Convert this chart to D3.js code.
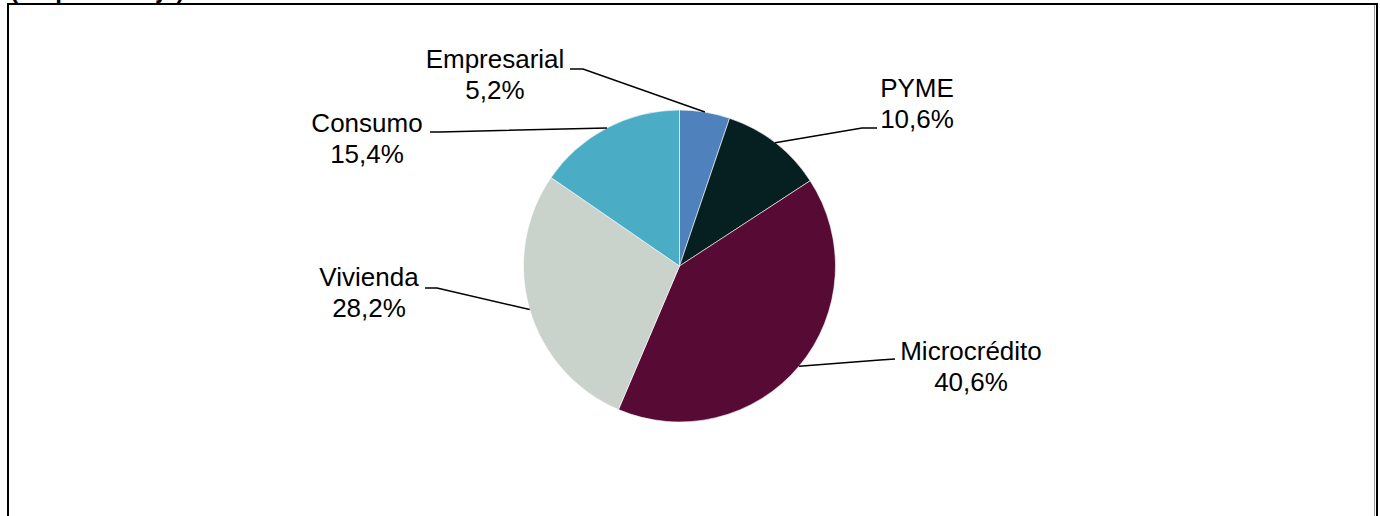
<!DOCTYPE html>
<html>
<head>
<meta charset="utf-8">
<script src="https://d3js.org/d3.v7.min.js"></script>
<style>
body { margin: 0; background: #fff; }
svg { display: block; font-family: "Liberation Sans", Arial, sans-serif; }
</style>
</head>
<body>
<div id="chart-area"></div>
<script>
// data
var categories = ["Empresarial", "PYME", "Microcrédito", "Vivienda", "Consumo"];
var values = [5.2, 10.6, 40.6, 28.2, 15.4];
var colors = ["#4F81BD", "#061F21", "#570A34", "#C9D2CB", "#4BACC6"];

// label layout: text center x, first baseline y, elbow and end of the leader line
var labelLayout = [
    {tx: 495, ty: 68,  elbow: [583, 69],  end: [570, 69]},
    {tx: 917, ty: 97,  elbow: [862, 128], end: [877, 128]},
    {tx: 971, ty: 360, elbow: [880, 360], end: [895, 359]},
    {tx: 369, ty: 286, elbow: [437, 288], end: [425, 288]},
    {tx: 367, ty: 132, elbow: [440, 132], end: [430, 132]}
];

var width = 1380, height = 516;
var cx = 679.5, cy = 266, radius = 156;

var svg = d3.select("#chart-area").append("svg")
    .attr("width", width)
    .attr("height", height);

// cut-off title at the very top
svg.append("text")
    .attr("x", 10)
    .attr("y", -2)
    .style("font-size", "24px")
    .style("font-weight", "bold")
    .text("(En porcentaje)");

// frame
svg.append("rect")
    .attr("x", 8)
    .attr("y", 4)
    .attr("width", 1369)
    .attr("height", 530)
    .attr("fill", "none")
    .attr("stroke", "#000")
    .attr("stroke-width", 2);

svg.append("line")
    .attr("x1", 1374.5).attr("x2", 1374.5)
    .attr("y1", 5).attr("y2", height)
    .attr("stroke", "#9a9a9a")
    .attr("stroke-width", 1);

var data = categories.map(function(c, i) {
    return {name: c, value: values[i]};
});

var pie = d3.pie()
    .sort(null)
    .value(function(d) { return d.value; });

var arc = d3.arc()
    .innerRadius(0)
    .outerRadius(radius);

var arcs = pie(data);

var g = svg.append("g")
    .attr("transform", "translate(" + cx + "," + cy + ")");

g.selectAll("path")
    .data(arcs)
    .enter()
    .append("path")
    .attr("d", arc)
    .attr("fill", function(d, i) { return colors[i]; })
    .attr("stroke", "#fff")
    .attr("stroke-width", 0.6);

// leader lines
var fmt = function(v) { return d3.format(".1f")(v).replace(".", ",") + "%"; };

svg.selectAll(".leader")
    .data(arcs)
    .enter()
    .append("polyline")
    .attr("class", "leader")
    .attr("points", function(d, i) {
        var a = (d.startAngle + d.endAngle) / 2;
        var px = cx + radius * Math.sin(a),
            py = cy - radius * Math.cos(a);
        var l = labelLayout[i];
        return [[px, py], l.elbow, l.end].map(function(p) { return p.join(","); }).join(" ");
    })
    .attr("fill", "none")
    .attr("stroke", "#000")
    .attr("stroke-width", 1.5);

var labels = svg.selectAll(".label")
    .data(arcs)
    .enter()
    .append("text")
    .attr("class", "label")
    .attr("text-anchor", "middle")
    .style("font-size", "26px")
    .attr("fill", "#000");

labels.append("tspan")
    .attr("x", function(d, i) { return labelLayout[i].tx; })
    .attr("y", function(d, i) { return labelLayout[i].ty; })
    .text(function(d) { return d.data.name; });

labels.append("tspan")
    .attr("x", function(d, i) { return labelLayout[i].tx; })
    .attr("y", function(d, i) { return labelLayout[i].ty + 31; })
    .text(function(d) { return fmt(d.data.value); });
</script>
</body>
</html>
